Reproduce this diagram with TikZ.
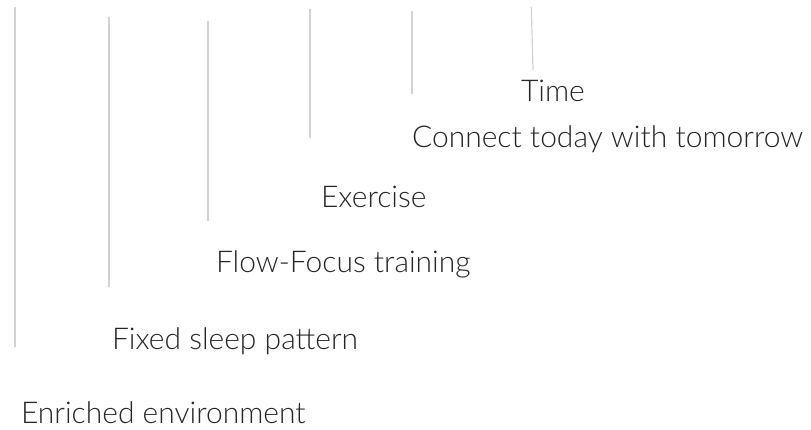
\documentclass[tikz,border=0pt]{standalone}
\usepackage{fontspec}
\setmainfont{Lato}[UprightFont={* Light}]
\definecolor{linegray}{HTML}{D2D2D2}
\definecolor{textgray}{HTML}{262626}
\begin{document}
\begin{tikzpicture}[x=1pt,y=-1pt,
  vline/.style={draw=linegray,line width=1.2pt},
  lbl/.style={anchor=base west,inner sep=0pt,outer sep=0pt,text=textgray,font=\fontsize{30}{36}\selectfont}]
\useasboundingbox (0,0) rectangle (811,430);
\draw[vline] (15,7) -- (15,347);
\draw[vline] (109,17) -- (109,287);
\draw[vline] (208,21) -- (208,221);
\draw[vline] (310,9) -- (310,138);
\draw[vline] (412,11) -- (412,94);
\draw[vline] (531.3,7) -- (533,70);
\node[lbl] (time) at (521,102) {Time};
\node[lbl] (connect) at (412,148) {Connect today with tomorrow};
\node[lbl] (exercise) at (321,208) {Exercise};
\node[lbl] (flow) at (216,273) {Flow-Focus training};
\node[lbl] (sleep) at (112,349) {Fixed sleep pattern};
\node[lbl] (env) at (21,423) {Enriched environment};
\end{tikzpicture}
\end{document}
